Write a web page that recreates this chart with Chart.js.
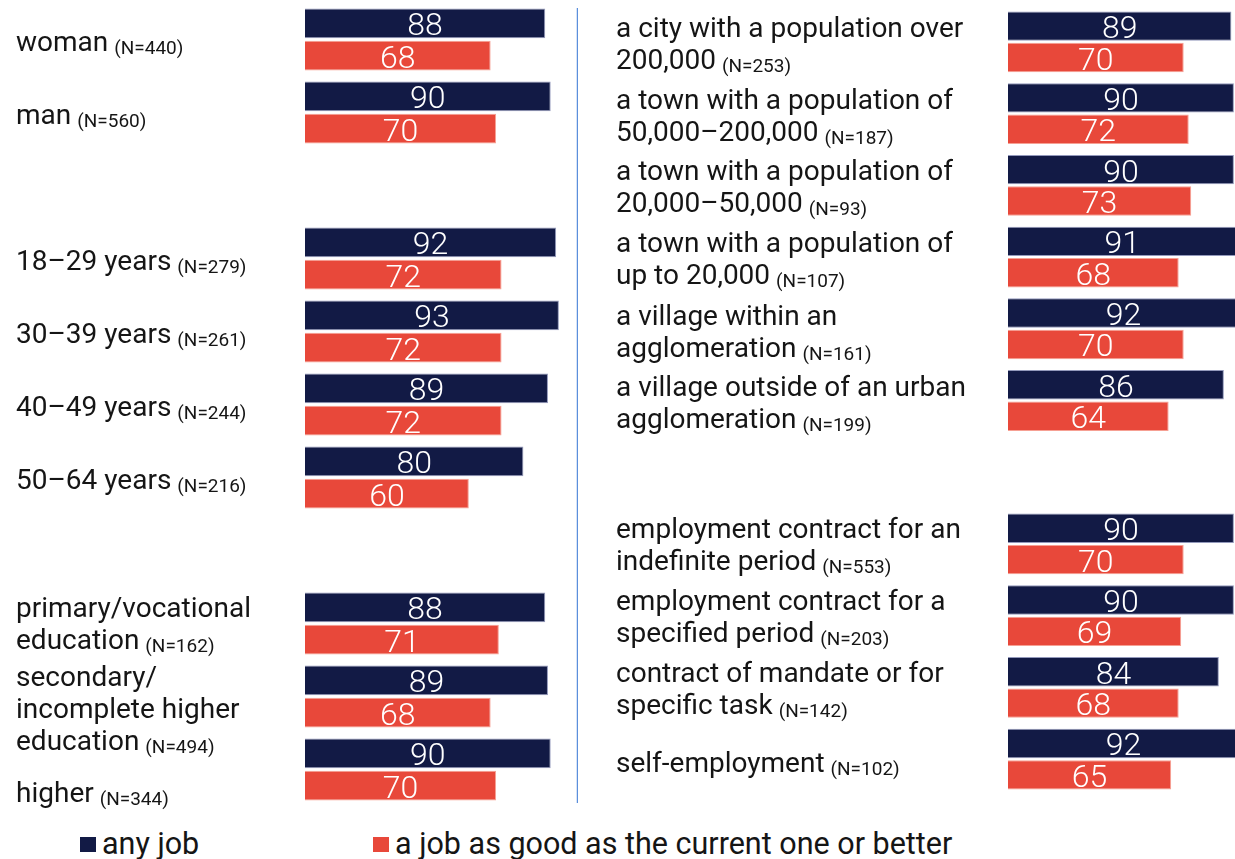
<!DOCTYPE html>
<html>
<head>
<meta charset="utf-8">
<script src="https://cdn.jsdelivr.net/npm/chart.js@4.4.0/dist/chart.umd.min.js"></script>
<style>
  html, body { margin: 0; padding: 0; width: 1235px; height: 859px; overflow: hidden; background: #fff; }
  body { position: relative; font-family: Roboto, "Liberation Sans", sans-serif; }
  #leftBox { position: absolute; left: 0; top: 3px; width: 578px; height: 820px; }
  #rightBox { position: absolute; left: 578px; top: 5.5px; width: 681px; height: 805px; }
  #legend { position: absolute; left: 0; top: 828px; width: 1235px; height: 31px; color: #151515; font-size: 30.5px; }
  .item { position: absolute; top: 0; white-space: nowrap; line-height: 31px; }
  .swatch { display: inline-block; width: 16px; height: 15px; margin-right: 6px; vertical-align: 2px; }
</style>
</head>
<body>
<div id="leftBox"><canvas id="leftChart"></canvas></div>
<div id="rightBox"><canvas id="rightChart"></canvas></div>
<div id="legend"></div>

<script>
// series names
const seriesNames = ['any job', 'a job as good as the current one or better'];
const navy = '#121a45';
const red = '#e8483a';

// left panel: gender, age, education ([] = spacer row)
const leftLabels = [
    ['woman'], ['man'], [],
    ['18–29 years'], ['30–39 years'], ['40–49 years'], ['50–64 years'], [],
    ['primary/vocational', 'education'],
    ['secondary/', 'incomplete higher', 'education'],
    ['higher']
];
const leftN = [440, 560, null, 279, 261, 244, 216, null, 162, 494, 344];
const leftAnyJob = [88, 90, null, 92, 93, 89, 80, null, 88, 89, 90];
const leftGoodJob = [68, 70, null, 72, 72, 72, 60, null, 71, 68, 70];

// right panel: place of residence, type of contract
const rightLabels = [
    ['a city with a population over', '200,000'],
    ['a town with a population of', '50,000–200,000'],
    ['a town with a population of', '20,000–50,000'],
    ['a town with a population of', 'up to 20,000'],
    ['a village within an', 'agglomeration'],
    ['a village outside of an urban', 'agglomeration'],
    [],
    ['employment contract for an', 'indefinite period'],
    ['employment contract for a', 'specified period'],
    ['contract of mandate or for', 'specific task'],
    ['self-employment']
];
const rightN = [253, 187, 93, 107, 161, 199, null, 553, 203, 142, 102];
const rightAnyJob = [89, 90, 90, 91, 92, 86, null, 90, 90, 84, 92];
const rightGoodJob = [70, 72, 73, 68, 70, 64, null, 70, 69, 68, 65];

const FONT = 'Roboto, "Liberation Sans", sans-serif';

// category labels with a smaller (N=...) suffix, drawn left of the bars
function makeLabelPlugin(labels, counts, textX, nudge) {
    return {
        id: 'rowLabels',
        afterDraw(chart) {
            const ctx = chart.ctx;
            const y = chart.scales.y;
            ctx.save();
            ctx.fillStyle = '#151515';
            ctx.textAlign = 'left';
            ctx.textBaseline = 'alphabetic';
            labels.forEach((lines, i) => {
                if (!lines.length) return;
                const center = y.getPixelForValue(i) + (nudge[i] || 0);
                const lineH = 32;
                let base = center - (lines.length - 1) * lineH / 2 + 9;
                lines.forEach((line, j) => {
                    ctx.font = '28px ' + FONT;
                    ctx.fillText(line, textX, base);
                    if (j === lines.length - 1) {
                        const w = ctx.measureText(line).width + 6;
                        ctx.font = '19px ' + FONT;
                        ctx.fillText('(N=' + counts[i] + ')', textX + w, base + 3);
                    }
                    base += lineH;
                });
            });
            ctx.restore();
        }
    };
}

// white value in the middle of each bar
const valuePlugin = {
    id: 'barValues',
    afterDatasetsDraw(chart) {
        const ctx = chart.ctx;
        ctx.save();
        ctx.fillStyle = '#fff';
        ctx.font = '300 32px ' + FONT;
        ctx.textAlign = 'center';
        ctx.textBaseline = 'middle';
        chart.data.datasets.forEach((ds, d) => {
            chart.getDatasetMeta(d).data.forEach((bar, i) => {
                if (ds.data[i] == null) return;
                ctx.fillText(ds.data[i], (bar.x + bar.base) / 2, bar.y + 4);
            });
        });
        ctx.restore();
    }
};

// thin blue divider along the right edge of the left panel
const dividerPlugin = {
    id: 'divider',
    afterDraw(chart) {
        const ctx = chart.ctx;
        const a = chart.chartArea;
        ctx.save();
        ctx.strokeStyle = '#5b8fdc';
        ctx.lineWidth = 1.5;
        ctx.beginPath();
        ctx.moveTo(a.right - 0.5, a.top + 5);
        ctx.lineTo(a.right - 0.5, a.bottom - 3);
        ctx.stroke();
        ctx.restore();
    }
};

function makeChart(id, labels, counts, anyJob, goodJob, pad, textX, nudge, catPct, barPct, extra) {
    return new Chart(document.getElementById(id), {
        type: 'bar',
        data: {
            labels: labels.map((l, i) => i),
            datasets: [
                { label: seriesNames[0], data: anyJob, backgroundColor: navy,
                  borderColor: 'rgba(120,128,170,0.8)', borderWidth: 1, borderSkipped: 'start' },
                { label: seriesNames[1], data: goodJob, backgroundColor: red,
                  borderColor: 'rgba(245,150,135,0.9)', borderWidth: 1, borderSkipped: 'start' }
            ]
        },
        options: {
            indexAxis: 'y',
            responsive: true,
            maintainAspectRatio: false,
            animation: false,
            categoryPercentage: catPct,
            barPercentage: barPct,
            layout: { padding: pad },
            plugins: { legend: { display: false }, tooltip: { enabled: false } },
            scales: {
                x: { display: false, min: 0, max: 100 },
                y: { display: false }
            }
        },
        plugins: [makeLabelPlugin(labels, counts, textX, nudge), valuePlugin].concat(extra)
    });
}

makeChart('leftChart', leftLabels, leftN, leftAnyJob, leftGoodJob,
    { left: 305, right: 0, top: 0, bottom: 17 }, 16,
    { 0: 2, 1: 2, 3: 2, 4: 2, 5: 2, 6: 2, 8: 0, 9: 12, 10: 23 }, 0.882, 0.925, [dividerPlugin]);
makeChart('rightChart', rightLabels, rightN, rightAnyJob, rightGoodJob,
    { left: 430, right: 0, top: 0, bottom: 16 }, 38,
    { 0: 2, 1: 2, 2: 2, 3: 2, 4: 3, 5: 2, 7: 1, 8: 1, 9: 2, 10: 4 }, 0.876, 0.936, []);

// legend under both panels
const legend = document.getElementById('legend');
[[80, navy], [373, red]].forEach(([x, color], i) => {
    const el = document.createElement('div');
    el.className = 'item';
    el.style.left = x + 'px';
    el.innerHTML = '<span class="swatch" style="background:' + color + '"></span>' + seriesNames[i];
    legend.appendChild(el);
});
</script>
</body>
</html>
